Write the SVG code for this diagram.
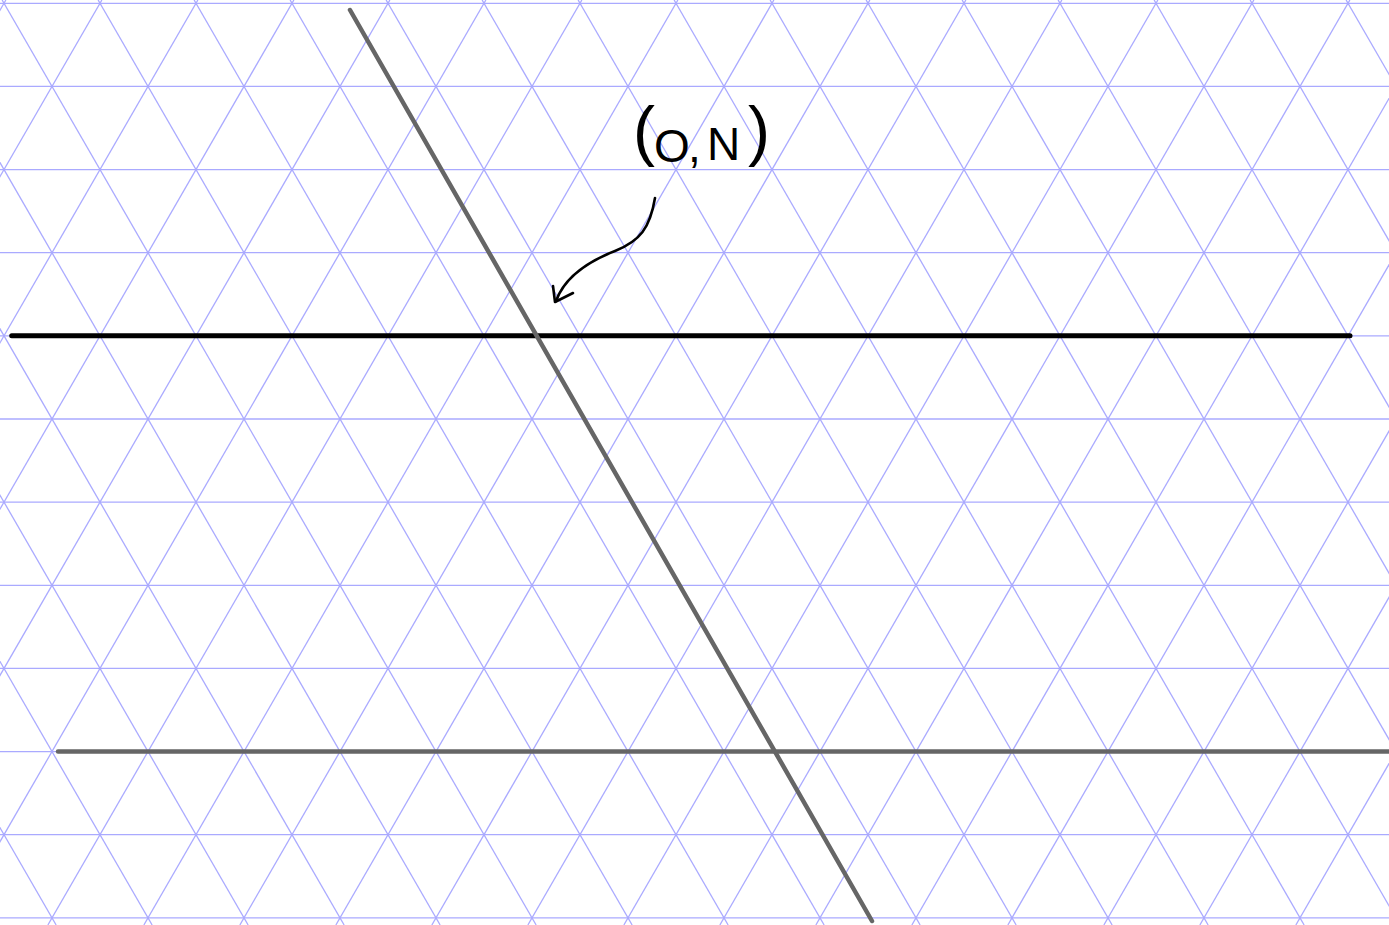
<svg xmlns="http://www.w3.org/2000/svg" width="1389" height="925" viewBox="0 0 1389 925">
<style>
.grid line{stroke:#aaaaff;stroke-width:1.3;fill:none}
.heavy{stroke:#000;stroke-width:5;stroke-linecap:round}
.ticks{stroke:#000;stroke-width:1.6;stroke-dasharray:1.6 41.58}
.gray{stroke:#666;stroke-width:4.5;stroke-linecap:round}
.ink{stroke:#000;stroke-width:2.6;fill:none;stroke-linecap:round;stroke-linejoin:round}
.label{font-family:"Liberation Sans",Arial,sans-serif;fill:#000}
</style>
<rect width="1389" height="925" fill="#fff"/>
<g id="grid" class="grid">
<line x1="0" y1="3.3" x2="1389" y2="3.3"/>
<line x1="0" y1="86.44" x2="1389" y2="86.44"/>
<line x1="0" y1="169.58" x2="1389" y2="169.58"/>
<line x1="0" y1="252.72" x2="1389" y2="252.72"/>
<line x1="0" y1="335.86" x2="1389" y2="335.86"/>
<line x1="0" y1="419" x2="1389" y2="419"/>
<line x1="0" y1="502.14" x2="1389" y2="502.14"/>
<line x1="0" y1="585.28" x2="1389" y2="585.28"/>
<line x1="0" y1="668.42" x2="1389" y2="668.42"/>
<line x1="0" y1="751.56" x2="1389" y2="751.56"/>
<line x1="0" y1="834.7" x2="1389" y2="834.7"/>
<line x1="0" y1="917.84" x2="1389" y2="917.84"/>
<line x1="-477.9" y1="0" x2="56.15" y2="925"/>
<line x1="-381.9" y1="0" x2="152.15" y2="925"/>
<line x1="-285.9" y1="0" x2="248.15" y2="925"/>
<line x1="-189.9" y1="0" x2="344.15" y2="925"/>
<line x1="-93.9" y1="0" x2="440.15" y2="925"/>
<line x1="2.1" y1="0" x2="536.15" y2="925"/>
<line x1="98.1" y1="0" x2="632.15" y2="925"/>
<line x1="194.1" y1="0" x2="728.15" y2="925"/>
<line x1="290.1" y1="0" x2="824.15" y2="925"/>
<line x1="386.1" y1="0" x2="920.15" y2="925"/>
<line x1="482.1" y1="0" x2="1016.15" y2="925"/>
<line x1="578.1" y1="0" x2="1112.15" y2="925"/>
<line x1="674.1" y1="0" x2="1208.15" y2="925"/>
<line x1="770.1" y1="0" x2="1304.15" y2="925"/>
<line x1="866.1" y1="0" x2="1400.15" y2="925"/>
<line x1="962.1" y1="0" x2="1496.15" y2="925"/>
<line x1="1058.1" y1="0" x2="1592.15" y2="925"/>
<line x1="1154.1" y1="0" x2="1688.15" y2="925"/>
<line x1="1250.1" y1="0" x2="1784.15" y2="925"/>
<line x1="1346.1" y1="0" x2="1880.15" y2="925"/>
<line x1="5.9" y1="0" x2="-528.15" y2="925"/>
<line x1="101.9" y1="0" x2="-432.15" y2="925"/>
<line x1="197.9" y1="0" x2="-336.15" y2="925"/>
<line x1="293.9" y1="0" x2="-240.15" y2="925"/>
<line x1="389.9" y1="0" x2="-144.15" y2="925"/>
<line x1="485.9" y1="0" x2="-48.15" y2="925"/>
<line x1="581.9" y1="0" x2="47.85" y2="925"/>
<line x1="677.9" y1="0" x2="143.85" y2="925"/>
<line x1="773.9" y1="0" x2="239.85" y2="925"/>
<line x1="869.9" y1="0" x2="335.85" y2="925"/>
<line x1="965.9" y1="0" x2="431.85" y2="925"/>
<line x1="1061.9" y1="0" x2="527.85" y2="925"/>
<line x1="1157.9" y1="0" x2="623.85" y2="925"/>
<line x1="1253.9" y1="0" x2="719.85" y2="925"/>
<line x1="1349.9" y1="0" x2="815.85" y2="925"/>
<line x1="1445.9" y1="0" x2="911.85" y2="925"/>
<line x1="1541.9" y1="0" x2="1007.85" y2="925"/>
<line x1="1637.9" y1="0" x2="1103.85" y2="925"/>
<line x1="1733.9" y1="0" x2="1199.85" y2="925"/>
<line x1="1829.9" y1="0" x2="1295.85" y2="925"/>
</g>
<g id="lines">
<line class="heavy" x1="11.7" y1="335.86" x2="1350" y2="335.86"/>
<line class="ticks" x1="54.08" y1="335.86" x2="1308" y2="335.86" stroke-width="7"/>
<line class="gray" x1="350" y1="10" x2="872" y2="921" stroke-width="4"/>
<line class="gray" x1="58" y1="751.56" x2="1395" y2="751.56"/>
</g>
<g id="label">
<text class="label"><tspan x="633" y="153" font-size="66">(</tspan><tspan x="654" y="162" font-size="46">O</tspan><tspan x="688" y="162" font-size="46">,</tspan><tspan x="707" y="160" font-size="46">N</tspan><tspan x="748" y="153" font-size="66">)</tspan></text>
</g>
<g id="connectors">
<path class="ink" d="M655,198 C650,228 640,241 615,251 C592,260 565,276 556,301"/>
<path class="ink" d="M553,286 L555,302 L573,293"/>
</g>
</svg>
